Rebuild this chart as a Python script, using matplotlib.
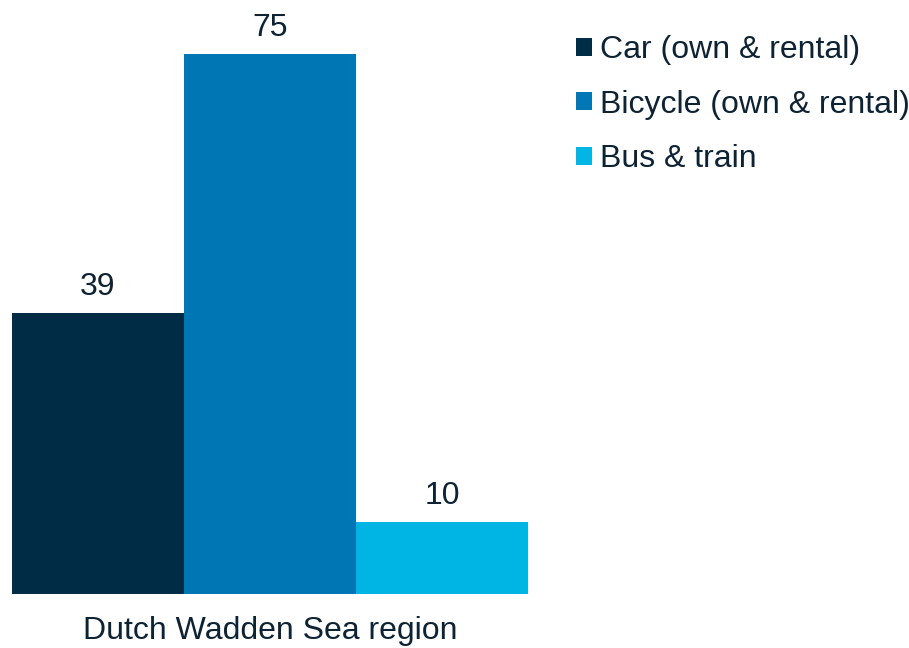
import matplotlib.pyplot as plt
from matplotlib.patches import Patch

plt.rcParams['font.family'] = ['Liberation Sans', 'DejaVu Sans']

region = 'Dutch Wadden Sea region'
modes = ['Car (own & rental)', 'Bicycle (own & rental)', 'Bus & train']
values = [39, 75, 10]
colors = ['#002D45', '#0077B5', '#00B5E4']
text_color = '#0D2233'

W, H = 909, 648
fig = plt.figure(figsize=(W / 100, H / 100), dpi=100)
ax = fig.add_axes([12 / W, (H - 594) / H, 516 / W, 594 / H])

xs = range(len(values))
bars = ax.bar(xs, values, width=1.0, color=colors)
for b, v in zip(bars, values):
    ax.annotate(str(v), (b.get_x() + b.get_width() / 2, v),
                xytext=(0, 8), textcoords='offset points',
                ha='center', va='bottom', fontsize=23, color=text_color)

ax.set_xlim(-0.5, 2.5)
ax.set_ylim(0, 82.5)
ax.set_yticks([])
ax.set_xticks([])
ax.set_xlabel(region, fontsize=23, color=text_color, labelpad=16)
for s in ax.spines.values():
    s.set_visible(False)

handles = [Patch(facecolor=c, edgecolor='none') for c in colors]
fig.legend(handles, modes, loc='upper left', bbox_to_anchor=(576 / W, 1 - 35 / H),
           frameon=False, fontsize=23, labelcolor=text_color,
           handlelength=0.5, handleheight=0.5, handletextpad=0.25,
           labelspacing=0.77, borderaxespad=0, borderpad=0)

fig.savefig('out.png', dpi=100)
